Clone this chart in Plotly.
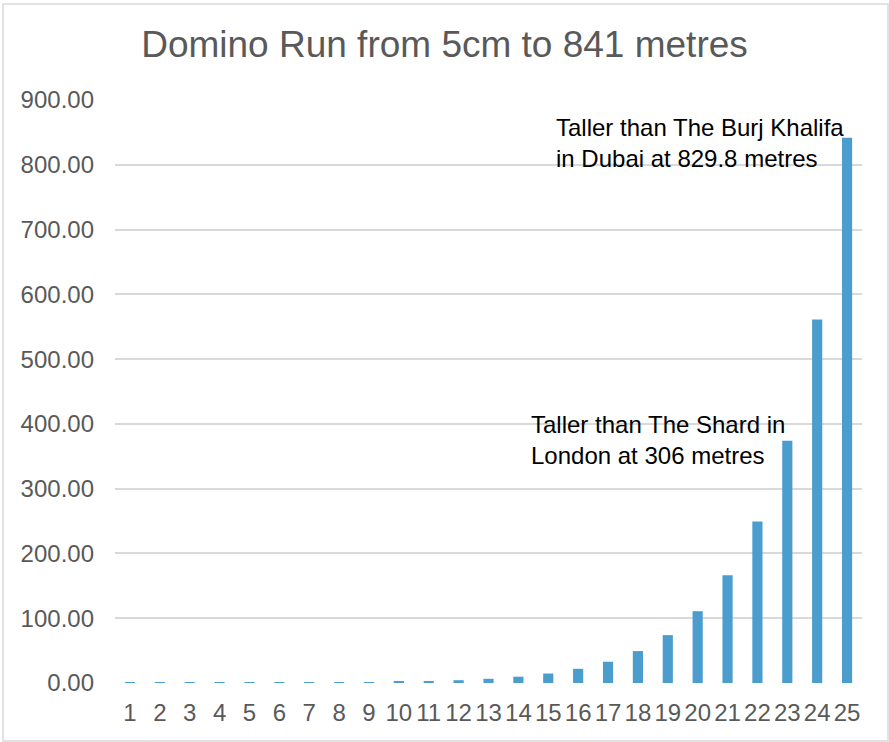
import plotly.graph_objects as go

dominoes = list(range(1, 26))
heights_m = [0.05, 0.075, 0.11, 0.17, 0.25, 0.38, 0.57, 0.85, 1.28, 1.92,
             2.88, 4.32, 6.49, 9.73, 14.60, 21.89, 32.84, 49.26, 73.89, 110.84,
             166.26, 249.38, 374.07, 561.11, 841.66]
y_ticks = [0, 100, 200, 300, 400, 500, 600, 700, 800, 900]
title_text = "Domino Run from 5cm to 841 metres"
note_shard = "Taller than The Shard in<br>London at 306 metres"
note_burj = "Taller than The Burj Khalifa<br>in Dubai at 829.8 metres"

FONT = "Liberation Sans"

fig = go.Figure(go.Bar(x=dominoes, y=heights_m, marker_color="#4a9dcc",
                       marker_line_width=0, width=0.34))

fig.update_layout(
    width=889, height=742,
    margin=dict(l=115, r=27, t=100, b=59),
    paper_bgcolor="white", plot_bgcolor="white",
    font=dict(family=FONT, color="#595959"),
    title=dict(text=title_text, x=0.5, xanchor="center", y=0.94, yanchor="middle",
               font=dict(size=37, color="#595959", family=FONT)),
    showlegend=False,
    bargap=0.66,
)
fig.update_xaxes(range=[0.5, 25.5], tickmode="array", tickvals=dominoes,
                 ticktext=[str(d) for d in dominoes], showgrid=False, zeroline=False,
                 showline=False, ticks="", tickfont=dict(size=24, color="#595959", family=FONT),
                 ticklabelstandoff=13)
fig.update_yaxes(range=[0, 900], tickmode="array", tickvals=y_ticks,
                 ticktext=[f"{v:.2f}" for v in y_ticks], showgrid=True,
                 gridcolor="#d9d9d9", gridwidth=1.5, zeroline=False, showline=False,
                 ticks="", tickfont=dict(size=24, color="#595959", family=FONT),
                 ticklabelstandoff=20)

fig.add_annotation(x=14.36, y=375, xref="x", yref="y", text=note_shard,
                   showarrow=False, xanchor="left", yanchor="middle", align="left",
                   font=dict(size=24, color="black", family=FONT))
fig.add_annotation(x=15.2, y=834, xref="x", yref="y", text=note_burj,
                   showarrow=False, xanchor="left", yanchor="middle", align="left",
                   font=dict(size=24, color="black", family=FONT))

fig.add_shape(type="rect", xref="paper", yref="paper",
              x0=-0.1499, x1=1.0348, y0=-0.0995, y1=1.1647,
              line=dict(color="#d9d9d9", width=1.5), fillcolor="rgba(0,0,0,0)")

fig.write_html("out.html", config={"displayModeBar": False},
               post_script="document.body.style.margin='0';")
